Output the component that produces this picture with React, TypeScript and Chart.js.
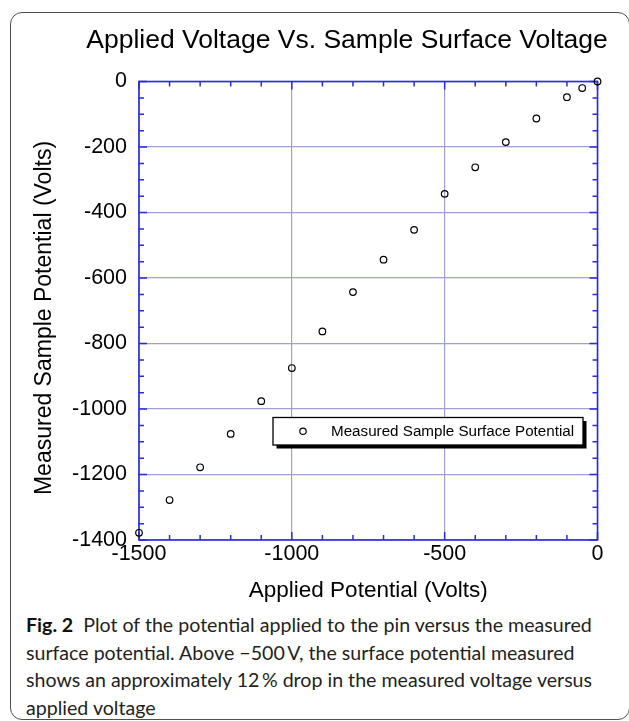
import React, { useEffect, useRef } from "react";
import { Chart, registerables } from "chart.js";

Chart.register(...registerables);

// ---- data ----
const appliedVolts = [-1500, -1400, -1300, -1200, -1100, -1000, -900, -800, -700, -600, -500, -400, -300, -200, -100, -50, 0];
const measuredVolts = [-1378, -1278, -1178, -1076, -976, -875, -763, -643, -544, -453, -343, -262, -185, -113, -48, -20, 0];
const xTickValues = [-1500, -1000, -500, 0];
const yTickValues = [0, -200, -400, -600, -800, -1000, -1200, -1400];
const seriesLabel = "Measured Sample Surface Potential";
const chartTitle = "Applied Voltage Vs. Sample Surface Voltage";
const xAxisTitle = "Applied Potential (Volts)";
const yAxisTitle = "Measured Sample Potential (Volts)";
const captionLead = "Fig. 2";
const captionLines = [
  "Plot of the potential applied to the pin versus the measured",
  "surface potential. Above \u2212500\u2009V, the surface potential measured",
  "shows an approximately 12\u2009% drop in the measured voltage versus",
  "applied voltage",
];

const W = 629;
const H = 605;
const FONT = "'Liberation Sans', Arial, Helvetica, sans-serif";
const FRAME = "#2b2bdc";
const GRID = "rgb(160,160,212)";

const decorPlugin = {
  id: "decor",
  beforeDatasetsDraw(chart: any) {
    const { ctx, chartArea: a, scales } = chart;
    const xs = scales.x;
    const ys = scales.y;
    ctx.save();
    ctx.strokeStyle = FRAME;
    ctx.lineWidth = 1.5;
    // minor / major ticks pointing inward on all four sides
    ctx.beginPath();
    for (let v = ys.min; v <= ys.max; v += 50) {
      const p = ys.getPixelForValue(v);
      const len = v % 200 === 0 ? 8 : 5;
      ctx.moveTo(a.left, p);
      ctx.lineTo(a.left + len, p);
      ctx.moveTo(a.right, p);
      ctx.lineTo(a.right - len, p);
    }
    for (let v = xs.min; v <= xs.max; v += 100) {
      const p = xs.getPixelForValue(v);
      const len = v % 500 === 0 ? 8 : 5;
      ctx.moveTo(p, a.bottom);
      ctx.lineTo(p, a.bottom - len);
      ctx.moveTo(p, a.top);
      ctx.lineTo(p, a.top + len);
    }
    ctx.stroke();
    ctx.lineWidth = 1.6;
    ctx.strokeRect(a.left, a.top, a.right - a.left, a.bottom - a.top);
    ctx.restore();
  },
  afterDraw(chart: any) {
    const { ctx, chartArea: a } = chart;
    ctx.save();
    ctx.fillStyle = "#000";
    // chart title
    ctx.font = `26.5px ${FONT}`;
    ctx.textAlign = "center";
    ctx.textBaseline = "alphabetic";
    ctx.fillText(chartTitle, 347, 48);
    // x axis title
    ctx.font = `22.5px ${FONT}`;
    ctx.fillText(xAxisTitle, (a.left + a.right) / 2, 597);
    // y axis title
    ctx.save();
    ctx.font = `23px ${FONT}`;
    ctx.translate(45, 318);
    ctx.rotate(-Math.PI / 2);
    ctx.textBaseline = "middle";
    ctx.fillText(yAxisTitle, 0, 0);
    ctx.restore();

    // legend box with drop shadow
    const lx = a.left + 134;
    const ly = a.top + 336;
    const lw = 310;
    const lh = 27.5;
    ctx.fillStyle = "#000";
    ctx.fillRect(lx + 3.5, ly + 3.5, lw, lh);
    ctx.fillStyle = "#fff";
    ctx.fillRect(lx, ly, lw, lh);
    ctx.strokeStyle = "#000";
    ctx.lineWidth = 1.3;
    ctx.strokeRect(lx, ly, lw, lh);
    ctx.beginPath();
    ctx.arc(lx + 30, ly + lh / 2, 3.2, 0, Math.PI * 2);
    ctx.lineWidth = 1.2;
    ctx.stroke();
    ctx.fillStyle = "#000";
    ctx.font = `15.2px ${FONT}`;
    ctx.textAlign = "left";
    ctx.textBaseline = "middle";
    ctx.fillText(chart.data.datasets[0].label, lx + 58, ly + lh / 2 + 0.5);
    ctx.restore();
  },
};

export default function App() {
  const canvasRef = useRef<HTMLCanvasElement | null>(null);

  useEffect(() => {
    if (!canvasRef.current) return;
    const chart = new Chart(canvasRef.current, {
      type: "scatter",
      data: {
        datasets: [
          {
            label: seriesLabel,
            data: appliedVolts.map((x, i) => ({ x, y: measuredVolts[i] })),
            pointStyle: "circle",
            pointRadius: 3.3,
            pointBorderWidth: 1.2,
            borderColor: "#000",
            backgroundColor: "rgba(0,0,0,0)",
            showLine: false,
            clip: false as any,
          },
        ],
      },
      options: {
        animation: false,
        responsive: false,
        devicePixelRatio: 1,
        layout: { padding: { top: 81.5, right: 31.5, left: 0, bottom: 0 } },
        plugins: {
          legend: { display: false },
          title: { display: false },
          tooltip: { enabled: false },
        },
        scales: {
          x: {
            type: "linear",
            min: xTickValues[0],
            max: xTickValues[xTickValues.length - 1],
            afterBuildTicks: (s: any) => {
              s.ticks = xTickValues.map((v) => ({ value: v }));
            },
            afterFit: (s: any) => {
              s.height = H - 540;
            },
            ticks: {
              color: "#000",
              font: { family: FONT, size: 21.5 },
              padding: 1,
              maxRotation: 0,
              autoSkip: false,
              callback: (v: any) => String(v),
            },
            grid: { color: GRID, lineWidth: 1.2, drawTicks: false },
            border: { display: false },
          },
          y: {
            type: "linear",
            min: yTickValues[yTickValues.length - 1],
            max: yTickValues[0],
            afterBuildTicks: (s: any) => {
              s.ticks = [...yTickValues].reverse().map((v) => ({ value: v }));
            },
            afterFit: (s: any) => {
              s.width = 139;
            },
            ticks: {
              color: "#000",
              font: { family: FONT, size: 21.5 },
              padding: 12,
              autoSkip: false,
              callback: (v: any) => String(v),
            },
            grid: { color: GRID, lineWidth: 1.2, drawTicks: false },
            border: { display: false },
          },
        },
      },
      plugins: [decorPlugin],
    });
    return () => chart.destroy();
  }, []);

  return (
    <div style={{ position: "absolute", left: 0, top: 0, width: W, height: 721, overflow: "hidden", background: "#fff" }}>
      <div
        style={{
          position: "absolute",
          left: 9.5,
          top: 12,
          width: 620,
          height: 708,
          boxSizing: "border-box",
          border: "1.3px solid #505050",
          borderRadius: 12,
        }}
      />
      <canvas ref={canvasRef} width={W} height={H} style={{ position: "absolute", left: 0, top: 0, width: W, height: H }} />
      <div
        style={{
          position: "absolute",
          left: 26,
          top: 611,
          fontFamily: "Lato, 'Noto Sans', sans-serif",
          fontSize: 19.6,
          lineHeight: "27.7px",
          color: "#231f20",
          whiteSpace: "nowrap",
        }}
      >
        <div>
          <b style={{ fontWeight: 700, color: "#111" }}>{captionLead}</b>
          <span style={{ marginLeft: 10 }}>{captionLines[0]}</span>
        </div>
        {captionLines.slice(1).map((l, i) => (
          <div key={i}>{l}</div>
        ))}
      </div>
    </div>
  );
}
